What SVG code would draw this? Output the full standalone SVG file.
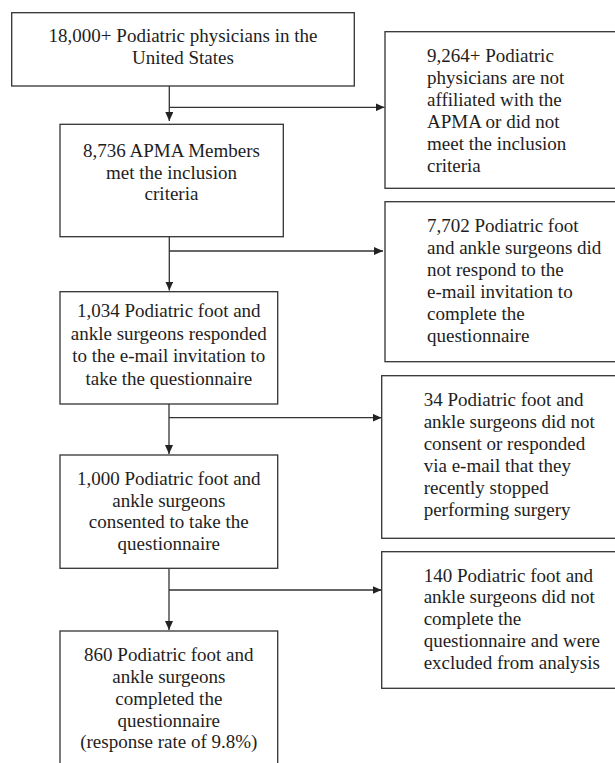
<svg xmlns="http://www.w3.org/2000/svg" width="615" height="763" viewBox="0 0 615 763">
<style>
.box{fill:#fff;stroke:#333;stroke-width:1.3}
.t{font-family:"Liberation Serif","Times New Roman",serif;font-size:19px;fill:#1e1e1e}
.c{text-anchor:middle}
.con{fill:none;stroke:#333;stroke-width:1.3}
</style>
<defs>
<marker id="ah" markerWidth="9" markerHeight="8" refX="9" refY="4" orient="auto" markerUnits="userSpaceOnUse">
<path d="M0,0 L9,4 L0,8 z" fill="#222"/>
</marker>
</defs>
<rect width="615" height="763" fill="#fff"/>
<g id="connectors">
<path class="con" d="M169.3,86 V121" marker-end="url(#ah)"/>
<path class="con" d="M169.3,107.3 H384.5" marker-end="url(#ah)"/>
<path class="con" d="M169.3,236.7 V290.5" marker-end="url(#ah)"/>
<path class="con" d="M169.3,251 H383" marker-end="url(#ah)"/>
<path class="con" d="M169,404 V454" marker-end="url(#ah)"/>
<path class="con" d="M169,417.7 H381.5" marker-end="url(#ah)"/>
<path class="con" d="M169,568.3 V630" marker-end="url(#ah)"/>
<path class="con" d="M169,590 H381.5" marker-end="url(#ah)"/>
</g>
<g id="n1">
<rect class="box" x="11.7" y="12.7" width="342.6" height="73.3"/>
<text class="t c" x="183" y="42.3">18,000+ Podiatric physicians in the</text>
<text class="t c" x="183" y="64.3">United States</text>
</g>
<g id="n2">
<rect class="box" x="60" y="124.3" width="223.3" height="112.4"/>
<text class="t c" x="171.5" y="157">8,736 APMA Members</text>
<text class="t c" x="171.5" y="178.5">met the inclusion</text>
<text class="t c" x="171.5" y="200">criteria</text>
</g>
<g id="n3">
<rect class="box" x="60" y="291.7" width="217.7" height="112.3"/>
<text class="t c" x="168.8" y="317">1,034 Podiatric foot and</text>
<text class="t c" x="168.8" y="339.7">ankle surgeons responded</text>
<text class="t c" x="168.8" y="362.3">to the e-mail invitation to</text>
<text class="t c" x="168.8" y="385">take the questionnaire</text>
</g>
<g id="n4">
<rect class="box" x="60" y="455" width="217.7" height="113.3"/>
<text class="t c" x="168.8" y="485">1,000 Podiatric foot and</text>
<text class="t c" x="168.8" y="506.7">ankle surgeons</text>
<text class="t c" x="168.8" y="528.3">consented to take the</text>
<text class="t c" x="168.8" y="550">questionnaire</text>
</g>
<g id="n5">
<rect class="box" x="60" y="631" width="217.7" height="140"/>
<text class="t c" x="168.8" y="661">860 Podiatric foot and</text>
<text class="t c" x="168.8" y="682.8">ankle surgeons</text>
<text class="t c" x="168.8" y="704.5">completed the</text>
<text class="t c" x="168.8" y="726.5">questionnaire</text>
<text class="t c" x="168.8" y="748.3">(response rate of 9.8%)</text>
</g>
<g id="e1">
<rect class="box" x="385" y="31.7" width="240" height="156.6"/>
<text class="t" x="427" y="61.5">9,264+ Podiatric</text>
<text class="t" x="427" y="83.5">physicians are not</text>
<text class="t" x="427" y="105.5">affiliated with the</text>
<text class="t" x="427" y="127.5">APMA or did not</text>
<text class="t" x="427" y="149.5">meet the inclusion</text>
<text class="t" x="427" y="171.5">criteria</text>
</g>
<g id="e2">
<rect class="box" x="385" y="201.7" width="240" height="160"/>
<text class="t" x="427" y="232.3">7,702 Podiatric foot</text>
<text class="t" x="427" y="254">and ankle surgeons did</text>
<text class="t" x="427" y="276">not respond to the</text>
<text class="t" x="427" y="298">e-mail invitation to</text>
<text class="t" x="427" y="320">complete the</text>
<text class="t" x="427" y="341.7">questionnaire</text>
</g>
<g id="e3">
<rect class="box" x="381.7" y="375.7" width="240" height="162.6"/>
<text class="t" x="423.7" y="406">34 Podiatric foot and</text>
<text class="t" x="423.7" y="428">ankle surgeons did not</text>
<text class="t" x="423.7" y="450">consent or responded</text>
<text class="t" x="423.7" y="472">via e-mail that they</text>
<text class="t" x="423.7" y="494">recently stopped</text>
<text class="t" x="423.7" y="516">performing surgery</text>
</g>
<g id="e4">
<rect class="box" x="381.7" y="551.7" width="240" height="136.6"/>
<text class="t" x="423.7" y="581.5">140 Podiatric foot and</text>
<text class="t" x="423.7" y="603.3">ankle surgeons did not</text>
<text class="t" x="423.7" y="625">complete the</text>
<text class="t" x="423.7" y="646.7">questionnaire and were</text>
<text class="t" x="423.7" y="668.5">excluded from analysis</text>
</g>
</svg>
